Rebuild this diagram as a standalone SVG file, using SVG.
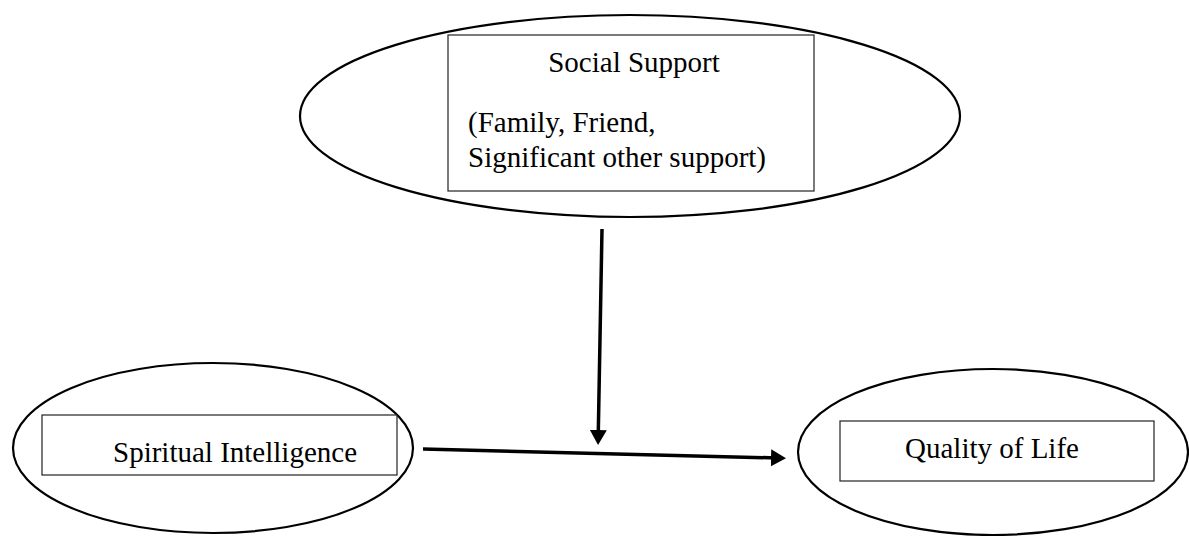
<svg xmlns="http://www.w3.org/2000/svg" width="1189" height="536" viewBox="0 0 1189 536">
<style>
.ell{fill:none;stroke:#000;stroke-width:2.2}
.box{fill:#fff;stroke:#222;stroke-width:1.2}
.t{font-family:"Liberation Serif","Times New Roman",serif;font-size:29px;fill:#000}
.conn{stroke:#000;stroke-width:3.5;fill:none}
</style>
<defs>
<marker id="ah" markerWidth="16" markerHeight="18" refX="7" refY="8.5" orient="auto" markerUnits="userSpaceOnUse">
<path d="M0,0 L15,8.5 L0,17 Z" fill="#000"/>
</marker>
</defs>
<rect width="1189" height="536" fill="#fff"/>
<g id="social-support">
<ellipse class="ell" cx="630" cy="116" rx="330" ry="101"/>
<rect class="box" x="448" y="35" width="366" height="156"/>
<text class="t" x="634" y="72" text-anchor="middle">Social Support</text>
<text class="t" x="468" y="132">(Family, Friend,</text>
<text class="t" x="468" y="167">Significant other support)</text>
</g>
<g id="spiritual-intelligence">
<ellipse class="ell" cx="213" cy="448" rx="200" ry="85"/>
<rect class="box" x="42" y="415" width="355" height="60"/>
<text class="t" x="113" y="462">Spiritual Intelligence</text>
</g>
<g id="quality-of-life">
<ellipse class="ell" cx="993" cy="452" rx="195" ry="83"/>
<rect class="box" x="840" y="421" width="314" height="60"/>
<text class="t" x="992" y="458" text-anchor="middle">Quality of Life</text>
</g>
<g id="connectors">
<line class="conn" x1="423" y1="449" x2="778" y2="458" marker-end="url(#ah)"/>
<line class="conn" x1="602" y1="229" x2="598.2" y2="437" marker-end="url(#ah)"/>
</g>
</svg>
